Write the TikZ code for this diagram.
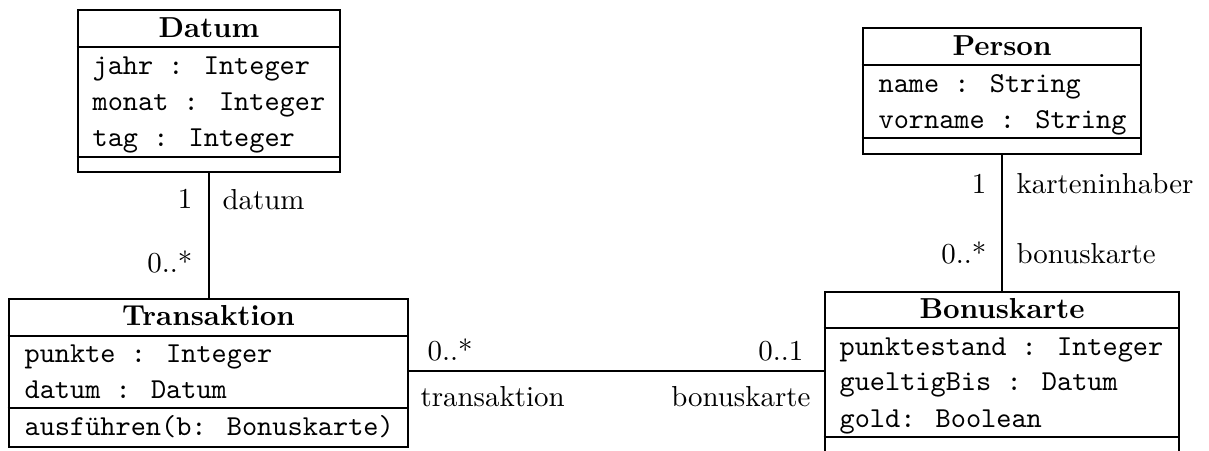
\documentclass[tikz,border=0pt]{standalone}
\usepackage{fontspec}
\usetikzlibrary{fit}
\begin{document}
\begin{tikzpicture}[x=0.346pt,y=-0.346pt,
  classbox/.style={draw, line width=0.95pt, inner sep=0pt},
  sepline/.style={line width=0.95pt},
  assoc/.style={line width=0.9pt},
  ctitle/.style={font=\bfseries, anchor=base, inner sep=0pt},
  attr/.style={font=\ttfamily, anchor=base west, inner sep=0pt},
  lbl/.style={inner sep=0pt}]
\useasboundingbox (0,0) rectangle (1209,450);
\clip (0,0) rectangle (1209,450);

% Datum
\node[classbox, fit={(78,10) (340,172)}] (datum) {};
\draw[sepline] (datum.west |- 0,47) -- (datum.east |- 0,47);
\draw[sepline] (datum.west |- 0,157) -- (datum.east |- 0,157);
\node[ctitle] (datumT) at (datum.north |- 0,37) {Datum};
\node[attr] (datumA1) at (92,74) {jahr : Integer};
\node[attr] (datumA2) at (92,110) {monat : Integer};
\node[attr] (datumA3) at (92,146) {tag : Integer};

% Transaktion
\node[classbox, fit={(9,299) (408,447)}] (trans) {};
\draw[sepline] (trans.west |- 0,336) -- (trans.east |- 0,336);
\draw[sepline] (trans.west |- 0,408) -- (trans.east |- 0,408);
\node[ctitle] (transT) at (trans.north |- 0,325) {Transaktion};
\node[attr] (transA1) at (24,362) {punkte : Integer};
\node[attr] (transA2) at (24,398) {datum : Datum};
\node[attr] (transM1) at (24,435) {ausführen(b: Bonuskarte)};

% Person
\node[classbox, fit={(863,28) (1141,154)}] (person) {};
\draw[sepline] (person.west |- 0,65) -- (person.east |- 0,65);
\draw[sepline] (person.west |- 0,138) -- (person.east |- 0,138);
\node[ctitle] (personT) at (person.north |- 0,55) {Person};
\node[attr] (personA1) at (878,92) {name : String};
\node[attr] (personA2) at (878,128) {vorname : String};

% Bonuskarte
\node[classbox, fit={(825,292) (1179,490)}] (bonus) {};
\draw[sepline] (bonus.west |- 0,328) -- (bonus.east |- 0,328);
\draw[sepline] (bonus.west |- 0,437) -- (bonus.east |- 0,437);
\node[ctitle] (bonusT) at (1002,318) {Bonuskarte};
\node[attr] (bonusA1) at (839,355) {punktestand : Integer};
\node[attr] (bonusA2) at (839,390) {gueltigBis : Datum};
\node[attr] (bonusA3) at (839,427) {gold: Boolean};

% associations
\draw[assoc] (datum.south) -- (datum.south |- trans.north);
\draw[assoc] (person.south) -- (person.south |- bonus.north);
\coordinate (hl) at (0,371);
\draw[assoc] (trans.east |- hl) -- (bonus.west |- hl);

% labels
\node[lbl, anchor=base east] (m1) at (193,208) {1};
\node[lbl, anchor=base west] (r1) at (222,209) {datum};
\node[lbl, anchor=base east] (m2) at (193,272) {0..*};

\node[lbl, anchor=base east] (m3) at (987,193) {1};
\node[lbl, anchor=base west] (r3) at (1016,193) {karteninhaber};
\node[lbl, anchor=base east] (m4) at (987,263) {0..*};
\node[lbl, anchor=base west] (r4) at (1016,263) {bonuskarte};

\node[lbl, anchor=base west] (m5) at (427,360) {0..*};
\node[lbl, anchor=base east] (m6) at (804,360) {0..1};
\node[lbl, anchor=base west] (r5) at (420,406) {transaktion};
\node[lbl, anchor=base east] (r6) at (811,406) {bonuskarte};
\end{tikzpicture}
\end{document}
